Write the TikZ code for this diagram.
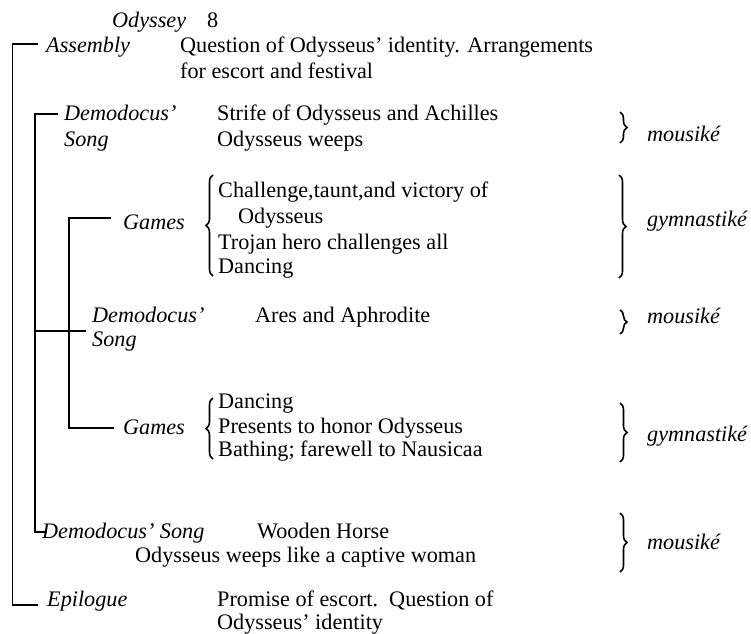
\documentclass[tikz,border=0pt]{standalone}
\usepackage{fontspec}
\setmainfont{Liberation Serif}
\usetikzlibrary{decorations.pathreplacing}
\begin{document}
\begin{tikzpicture}[x=1pt,y=-1pt,
  tx/.style={anchor=base west,inner sep=0pt,font=\fontsize{22.2}{26}\selectfont},
  it/.style={anchor=base west,inner sep=0pt,font=\fontsize{22.2}{26}\selectfont\itshape},
  ln/.style={line width=1.3pt,line cap=rect},
  brc/.style={decorate,decoration={brace,amplitude=7pt,aspect=0.5},line width=1.6pt}]
\useasboundingbox (0,0) rectangle (751,633);
% heading
\node[it] (odyssey) at (112,27) {Odyssey};
\node[tx] (book) at (207,27) {8};
% Assembly
\node[it] (assembly) at (46,52) {Assembly};
\node[tx] (q1) at (180,52) {Question of Odysseus’ identity. Arrangements};
\node[tx] (q2) at (180,78) {for escort and festival};
% Demodocus 1
\node[it] (dem1a) at (64,120) {Demodocus’};
\node[it] (dem1b) at (64,146) {Song};
\node[tx] (s1) at (217,120) {Strife of Odysseus and Achilles};
\node[tx] (s2) at (217,146) {Odysseus weeps};
% Games 1
\node[it] (games1) at (123,229) {Games};
\node[tx] (g1a) at (218,197) {Challenge,taunt,and victory of};
\node[tx] (g1b) at (238,223) {Odysseus};
\node[tx] (g1c) at (218,249) {Trojan hero challenges all};
\node[tx] (g1d) at (218,273) {Dancing};
% Demodocus 2
\node[it] (dem2a) at (92,322) {Demodocus’};
\node[it] (dem2b) at (92,346) {Song};
\node[tx] (ares) at (255,322) {Ares and Aphrodite};
% Games 2
\node[it] (games2) at (123,434) {Games};
\node[tx] (g2a) at (218,408) {Dancing};
\node[tx] (g2b) at (218,433) {Presents to honor Odysseus};
\node[tx] (g2c) at (218,456) {Bathing; farewell to Nausicaa};
% Demodocus 3
\node[it] (dem3) at (42,538) {Demodocus’ Song};
\node[tx] (horse) at (257,538) {Wooden Horse};
\node[tx] (weep) at (135,562) {Odysseus weeps like a captive woman};
% Epilogue
\node[it] (epi) at (47,606) {Epilogue};
\node[tx] (p1) at (217,606) {Promise of escort.\ \ Question of};
\node[tx] (p2) at (217,629) {Odysseus’ identity};
% right labels
\node[it] (m1) at (647,141) {mousiké};
\node[it] (gy1) at (647,226) {gymnastiké};
\node[it] (m2) at (647,323) {mousiké};
\node[it] (gy2) at (647,441) {gymnastiké};
\node[it] (m3) at (647,549) {mousiké};
% coordinates for the bracket lines
\coordinate (a0) at (37,44);   \coordinate (a1) at (12.5,44);
\coordinate (a2) at (12.5,605); \coordinate (a3) at (37,605);
\coordinate (b0) at (57,114);  \coordinate (b1) at (35,114);
\coordinate (b2) at (35,532);  \coordinate (b3) at (46,532);
\coordinate (c0) at (110,218); \coordinate (c1) at (69,218);
\coordinate (c2) at (69,428);  \coordinate (c3) at (113,428);
\coordinate (d0) at (35,331);  \coordinate (d1) at (85,331);
\draw[ln] (a0) -- (a1) -- (a2) -- (a3);
\draw[ln] (b0) -- (b1) -- (b2) -- (b3);
\draw[ln] (c0) -- (c1) -- (c2) -- (c3);
\draw[ln] (d0) -- (d1);
% left braces
\coordinate (lb1t) at (213,175); \coordinate (lb1b) at (213,276);
\coordinate (lb2t) at (213,398); \coordinate (lb2b) at (213,459);
\draw[brc] (lb1b) -- (lb1t);
\draw[brc] (lb2b) -- (lb2t);
% right braces
\coordinate (rb1t) at (620,112); \coordinate (rb1b) at (620,143);
\coordinate (rb2t) at (619,175); \coordinate (rb2b) at (619,278);
\coordinate (rb3t) at (620,310); \coordinate (rb3b) at (620,334);
\coordinate (rb4t) at (620,403); \coordinate (rb4b) at (620,462);
\coordinate (rb5t) at (620,513); \coordinate (rb5b) at (620,572);
\draw[brc] (rb1t) -- (rb1b);
\draw[brc] (rb2t) -- (rb2b);
\draw[brc] (rb3t) -- (rb3b);
\draw[brc] (rb4t) -- (rb4b);
\draw[brc] (rb5t) -- (rb5b);
\end{tikzpicture}
\end{document}
